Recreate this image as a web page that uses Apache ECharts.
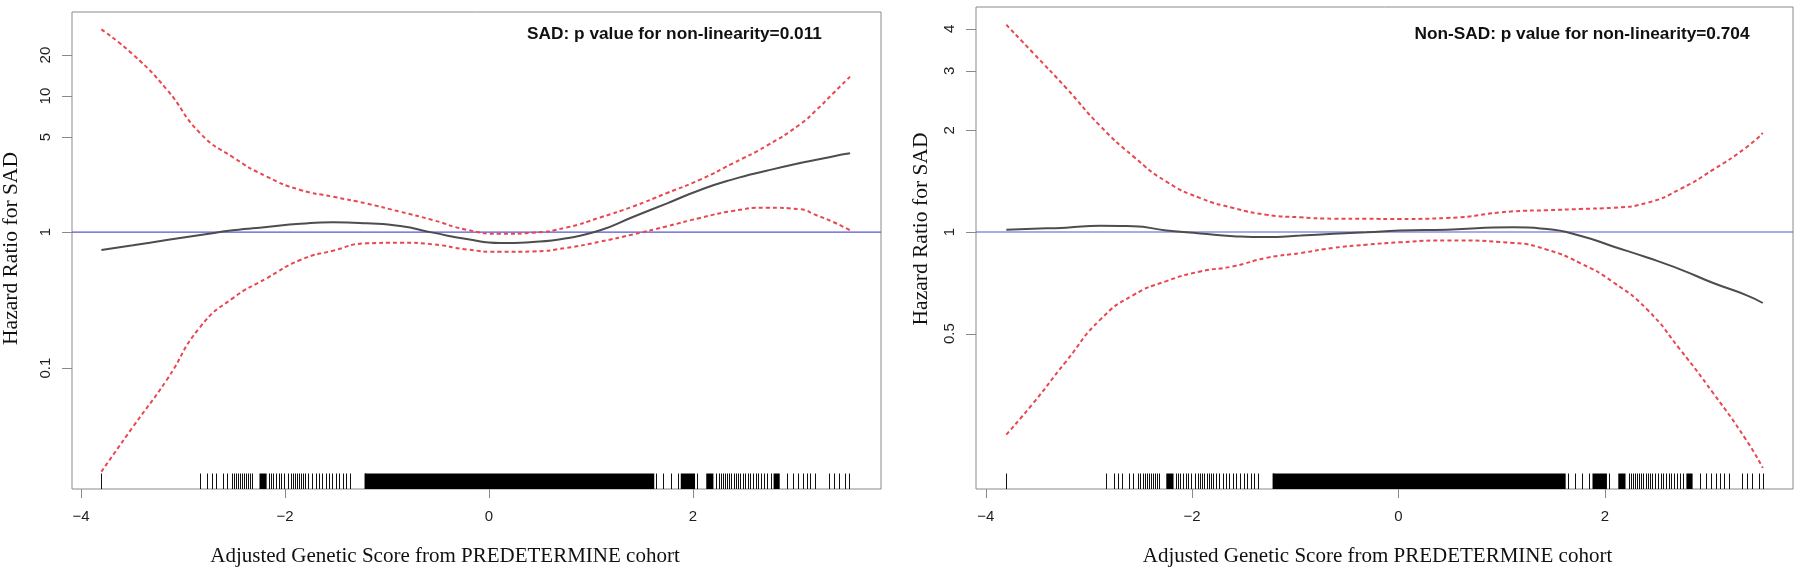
<!DOCTYPE html>
<html><head><meta charset="utf-8">
<script src="https://cdn.jsdelivr.net/npm/echarts@6/dist/echarts.min.js"></script>
<style>html,body{margin:0;padding:0;background:#fff}#c{width:1800px;height:571px}</style>
</head><body><div id="c"></div>
<script>
// ---------- data ----------
const panelTitles = ['SAD: p value for non-linearity=0.011', 'Non-SAD: p value for non-linearity=0.704'];
const yAxisTitle = 'Hazard Ratio for SAD';
const xAxisTitle = 'Adjusted Genetic Score from PREDETERMINE cohort';

const xTickValues = [-4, -2, 0, 2];
const yTicksSAD = [0.1, 1, 5, 10, 20];
const yTicksNonSAD = [0.5, 1, 2, 3, 4];

// SAD panel
const xSAD = [-3.80, -3.49, -3.16, -2.83, -2.51, -2.18, -1.85, -1.53, -1.20, -0.87, -0.55, -0.22, 0.11, 0.43, 0.76, 1.09, 1.41, 1.74, 2.07, 2.39, 2.72, 3.05, 3.21, 3.37, 3.54];
const fitSAD = [0.738, 0.80, 0.873, 0.95, 1.03, 1.09, 1.15, 1.18, 1.16, 1.107, 0.99, 0.888, 0.83, 0.845, 0.90, 1.03, 1.29, 1.62, 2.04, 2.44, 2.82, 3.22, 3.40, 3.60, 3.79];
const upperSAD = [30.9, 20.2, 11.2, 5.32, 3.55, 2.56, 2.04, 1.82, 1.62, 1.41, 1.225, 1.04, 0.97, 0.99, 1.08, 1.28, 1.54, 1.93, 2.43, 3.20, 4.30, 6.20, 7.90, 10.4, 13.9];
const lowerSAD = [0.0173, 0.037, 0.0816, 0.201, 0.327, 0.457, 0.623, 0.729, 0.826, 0.835, 0.812, 0.745, 0.715, 0.72, 0.765, 0.85, 0.96, 1.10, 1.27, 1.43, 1.51, 1.47, 1.33, 1.19, 1.03];

// Non-SAD panel
const xNonSAD = [-3.80, -3.54, -3.22, -2.89, -2.57, -2.25, -1.92, -1.60, -1.28, -0.95, -0.63, -0.31, 0.01, 0.47, 1.11, 1.44, 1.76, 2.08, 2.41, 2.73, 3.05, 3.37, 3.53];
const fitNonSAD = [1.016, 1.022, 1.03, 1.043, 1.04, 1.01, 0.99, 0.972, 0.966, 0.976, 0.988, 0.998, 1.01, 1.016, 1.032, 1.02, 0.975, 0.906, 0.84, 0.775, 0.706, 0.65, 0.616];
const upperNonSAD = [4.11, 3.39, 2.67, 2.06, 1.675, 1.41, 1.26, 1.178, 1.125, 1.105, 1.095, 1.094, 1.093, 1.10, 1.151, 1.16, 1.17, 1.18, 1.22, 1.34, 1.53, 1.78, 1.965];
const lowerNonSAD = [0.251, 0.311, 0.414, 0.55, 0.65, 0.715, 0.764, 0.791, 0.838, 0.866, 0.897, 0.917, 0.932, 0.944, 0.928, 0.886, 0.809, 0.71, 0.589, 0.448, 0.333, 0.242, 0.20];

// rug (observed genetic scores): individual ticks and fully-inked stretches
const rugTicks = [-3.80, -2.83, -2.76, -2.72, -2.68, -2.61, -2.57, -2.52, -2.50, -2.48, -2.46, -2.44, -2.42, -2.40, -2.38, -2.36, -2.34, -2.32,
  -2.16, -2.14, -2.12, -2.09, -2.06, -2.04, -2.01, -1.97, -1.94, -1.92, -1.90, -1.88, -1.86, -1.84, -1.82, -1.80, -1.77, -1.74, -1.70, -1.67,
  -1.64, -1.60, -1.57, -1.54, -1.50, -1.47, -1.43, -1.40, -1.36, -1.22,
  1.64, 1.71, 1.78, 1.85, 2.04, 2.23, 2.25, 2.27, 2.29, 2.31, 2.33, 2.35, 2.37, 2.40, 2.42, 2.44, 2.46, 2.49, 2.51, 2.54, 2.56, 2.59,
  2.62, 2.64, 2.67, 2.70, 2.73, 2.76, 2.92, 2.98, 3.03, 3.08, 3.12, 3.15, 3.20, 3.33, 3.38, 3.43, 3.49, 3.53];
const rugBlocks = [[-2.25, -2.18], [-1.22, 1.62], [1.88, 2.02], [2.13, 2.20], [2.79, 2.85]];

// ---------- layout ----------
const panels = [
  {grid: {left: 72, top: 12, width: 809, height: 477}, xMin: -4.088, xMax: 3.843, yMin: 0.0129, yMax: 41.5,
   x: xSAD, fit: fitSAD, up: upperSAD, lo: lowerSAD, yTicks: yTicksSAD,
   title: {x: 674.5, y: 34}, yTitle: {x: 11, y: 248.5}, xTitle: {x: 445, y: 556}},
  {grid: {left: 976, top: 7, width: 817, height: 482}, xMin: -4.094, xMax: 3.823, yMin: 0.1732, yMax: 4.64,
   x: xNonSAD, fit: fitNonSAD, up: upperNonSAD, lo: lowerNonSAD, yTicks: yTicksNonSAD,
   title: {x: 1582, y: 34}, yTitle: {x: 921, y: 229}, xTitle: {x: 1377.5, y: 556}}
];

const AX = '#8a8a8a';
const LABEL = '#1e1e1e';
const SANS = '"Liberation Sans", Arial, sans-serif';
const SERIF = '"Liberation Serif", "Times New Roman", serif';
const fmt = v => (v < 0 ? '\u2212' + Math.abs(v) : String(v));

const grids = [], xAxes = [], yAxes = [], series = [], graphics = [];

panels.forEach((p, i) => {
  grids.push(Object.assign({show: true, borderColor: AX, borderWidth: 1, backgroundColor: 'transparent', containLabel: false}, p.grid));
  xAxes.push({type: 'value', gridIndex: i, min: p.xMin, max: p.xMax, show: false});
  yAxes.push({type: 'log', logBase: 10, gridIndex: i, min: p.yMin, max: p.yMax, show: false});

  const pairs = arr => p.x.map((x, k) => [x, arr[k]]);
  [p.up, p.lo].forEach(arr => series.push({
    type: 'line', xAxisIndex: i, yAxisIndex: i, data: pairs(arr), showSymbol: false, smooth: 0.55, silent: true, z: 3,
    lineStyle: {color: '#e8474f', width: 2, type: [4, 3]}
  }));
  series.push({
    type: 'line', xAxisIndex: i, yAxisIndex: i, data: [[p.xMin, 1], [p.xMax, 1]], showSymbol: false, silent: true, z: 2,
    lineStyle: {color: '#5656d2', width: 1.2}
  });
  series.push({
    type: 'line', xAxisIndex: i, yAxisIndex: i, data: pairs(p.fit), showSymbol: false, smooth: 0.55, silent: true, z: 4,
    lineStyle: {color: '#4d4d4d', width: 2}
  });
  // y tick marks
  series.push({
    type: 'custom', xAxisIndex: i, yAxisIndex: i, silent: true, clip: false, z: 6,
    data: p.yTicks.map(v => [p.xMin, v]),
    renderItem: (params, api) => {
      const c = api.coord([api.value(0), api.value(1)]);
      const y = Math.round(c[1]) + 0.5;
      return {type: 'line', shape: {x1: c[0] - 10, y1: y, x2: c[0], y2: y}, style: {stroke: AX, lineWidth: 1}};
    }
  });
  // x ticks + labels
  series.push({
    type: 'custom', xAxisIndex: i, yAxisIndex: i, silent: true, clip: false, z: 6,
    data: xTickValues.map(v => [v, p.yMin]),
    renderItem: (params, api) => {
      const v = api.value(0);
      const c = api.coord([v, api.value(1)]);
      const x = Math.round(c[0]) + 0.5;
      return {type: 'group', children: [
        {type: 'line', shape: {x1: x, y1: c[1], x2: x, y2: c[1] + 9}, style: {stroke: AX, lineWidth: 1}},
        {type: 'text', x: c[0], y: c[1] + 28,
         style: {text: fmt(v), fontSize: 15, fontFamily: SANS, fill: LABEL, align: 'center', verticalAlign: 'middle'}}
      ]};
    }
  });
  series.push({
    type: 'custom', xAxisIndex: i, yAxisIndex: i, silent: true, clip: false, z: 5,
    data: rugTicks.map(v => [v, p.yMin]),
    renderItem: (params, api) => {
      const c = api.coord([api.value(0), api.value(1)]);
      const x = Math.round(c[0]) + 0.5;
      return {type: 'line', shape: {x1: x, y1: c[1] - 15.5, x2: x, y2: c[1]}, style: {stroke: '#111', lineWidth: 1}};
    }
  });
  series.push({
    type: 'custom', xAxisIndex: i, yAxisIndex: i, silent: true, clip: false, z: 5,
    data: rugBlocks.map(b => [b[0], p.yMin, b[1]]),
    renderItem: (params, api) => {
      const a = api.coord([api.value(0), api.value(1)]);
      const b = api.coord([api.value(2), api.value(1)]);
      return {type: 'rect', shape: {x: a[0], y: a[1] - 15.5, width: b[0] - a[0], height: 15.5}, style: {fill: '#000'}};
    }
  });

  graphics.push(
    {type: 'text', x: p.title.x, y: p.title.y, silent: true,
     style: {text: panelTitles[i], fontSize: 17.25, fontWeight: 'bold', fontFamily: SANS, fill: '#111', align: 'center', verticalAlign: 'middle'}},
    {type: 'text', x: p.yTitle.x, y: p.yTitle.y, rotation: Math.PI / 2, silent: true,
     style: {text: yAxisTitle, fontSize: 21.5, fontFamily: SERIF, fill: '#111', align: 'center', verticalAlign: 'middle'}},
    {type: 'text', x: p.xTitle.x, y: p.xTitle.y, silent: true,
     style: {text: xAxisTitle, fontSize: 21, fontFamily: SERIF, fill: '#111', align: 'center', verticalAlign: 'middle'}}
  );
});

const chart = echarts.init(document.getElementById('c'), null, {renderer: 'canvas'});
chart.setOption({
  animation: false,
  backgroundColor: '#fff',
  grid: grids, xAxis: xAxes, yAxis: yAxes, series: series, graphic: graphics
});

// rotated y tick labels, positioned through the axes' own scales
const yLabelGraphics = [];
panels.forEach((p, i) => {
  p.yTicks.forEach(v => {
    const c = chart.convertToPixel({xAxisIndex: i, yAxisIndex: i}, [p.xMin, v]);
    yLabelGraphics.push({type: 'text', x: c[0] - 26.5, y: c[1], rotation: Math.PI / 2, silent: true,
      style: {text: fmt(v), fontSize: 15, fontFamily: SANS, fill: LABEL, align: 'center', verticalAlign: 'middle'}});
  });
});
chart.setOption({graphic: graphics.concat(yLabelGraphics)});
</script></body></html>
